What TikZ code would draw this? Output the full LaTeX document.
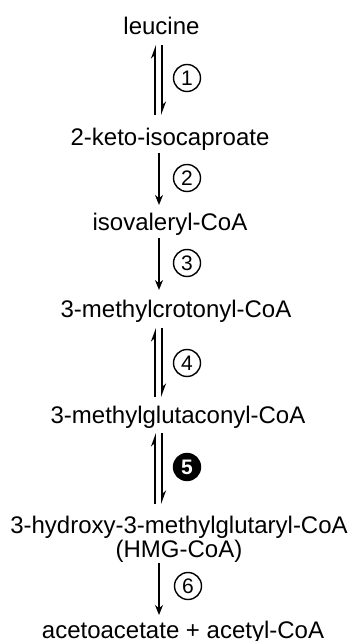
\documentclass[tikz,border=0pt]{standalone}
\usepackage{fontspec}
\setmainfont{Liberation Sans}
\usetikzlibrary{arrows.meta}

\begin{document}
\begin{tikzpicture}[x=0.5pt,y=-0.5pt,
    cpd/.style={anchor=base,inner sep=0pt,font=\fontsize{12}{12}\selectfont},
    enz/.style={circle,draw,line width=0.7pt,minimum size=13.5pt,inner sep=0pt,font=\fontsize{10.5}{10.5}\selectfont},
    enzb/.style={enz,fill=black,text=white,font=\fontsize{10.5}{10.5}\selectfont\bfseries},
    fwd/.style={line width=0.9pt,-{Stealth[length=5pt,width=4pt]}},
    harp/.style={line width=0.9pt,-{Stealth[left,length=5.5pt,width=4pt]}}]
    \useasboundingbox (0,0) rectangle (354,641);

    \node[cpd](leucine) at (161.5,35) {leucine};
    \node[cpd](keto) at (170,146) {2-keto-isocaproate};
    \node[cpd](isoval) at (170,231) {isovaleryl-CoA};
    \node[cpd](crotonyl) at (176,317) {3-methylcrotonyl-CoA};
    \node[cpd](glutaconyl) at (178,423) {3-methylglutaconyl-CoA};
    \node[cpd](hmg) at (179,533) {3-hydroxy-3-methylglutaryl-CoA};
    \node[cpd](hmgshort) at (179,557) {(HMG-CoA)};
    \node[cpd](acetyl) at (183,638) {acetoacetate + acetyl-CoA};

    \coordinate (ax) at (159,0);
    \coordinate (axl) at (155,0);
    \coordinate (axr) at (162,0);

    \node[enz](e1) at (187,78) {1};
    \node[enz](e2) at (187,178) {2};
    \node[enz](e3) at (187,263) {3};
    \node[enz](e4) at (187,363) {4};
    \node[enzb](e5) at (187,467) {5};
    \node[enz](e6) at (188,586) {6};

    \draw [harp,shorten <=15.5pt,shorten >=5pt] (keto.base -| axl) -- (leucine.base -| axl);
    \draw [harp,shorten <=5pt,shorten >=15.5pt] (leucine.base -| axr) -- (keto.base -| axr);
    \draw [fwd,shorten <=3.5pt,shorten >=13pt] (keto.base -| ax) -- (isoval.base -| ax);
    \draw [fwd,shorten <=3.5pt,shorten >=13.5pt] (isoval.base -| ax) -- (crotonyl.base -| ax);
    \draw [harp,shorten <=13pt,shorten >=5.5pt] (glutaconyl.base -| axl) -- (crotonyl.base -| axl);
    \draw [harp,shorten <=5.5pt,shorten >=13pt] (crotonyl.base -| axr) -- (glutaconyl.base -| axr);
    \draw [harp,shorten <=14.5pt,shorten >=5pt] (hmg.base -| axl) -- (glutaconyl.base -| axl);
    \draw [harp,shorten <=5pt,shorten >=14.5pt] (glutaconyl.base -| axr) -- (hmg.base -| axr);
    \draw [fwd,shorten <=3pt,shorten >=11.5pt] (hmgshort.base -| ax) -- (acetyl.base -| ax);
\end{tikzpicture}
\end{document}
